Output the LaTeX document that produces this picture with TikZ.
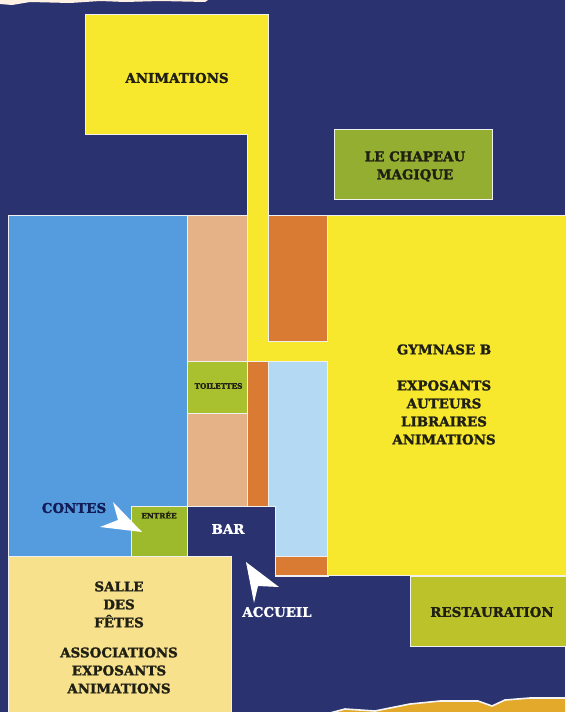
\documentclass[tikz,border=0pt]{standalone}
\usepackage{fontspec}
\setmainfont{DejaVu Serif}[BoldFeatures={FakeBold=1.6}]
\definecolor{navy}{HTML}{2A3270}
\definecolor{deepnavy}{HTML}{121B55}
\definecolor{yel}{HTML}{F7E72D}
\definecolor{skyb}{HTML}{559CDF}
\definecolor{peach}{HTML}{E5B287}
\definecolor{orng}{HTML}{D97B33}
\definecolor{pale}{HTML}{B3D9F3}
\definecolor{cream}{HTML}{F8E18D}
\definecolor{grna}{HTML}{93AE30}
\definecolor{grnb}{HTML}{A9C02F}
\definecolor{grnc}{HTML}{9DBA2C}
\definecolor{grnd}{HTML}{BCC32A}
\definecolor{gold}{HTML}{E2A92A}
\definecolor{ink}{HTML}{1F1F14}
\tikzset{
  x=1pt,y=-1pt,
  room/.style={draw=white!88!gray,line width=0.9pt,line join=miter},
  lbl/.style={font=\bfseries\fontsize{13.4}{18}\selectfont,text=ink,align=center,inner sep=0pt},
  tiny/.style={font=\bfseries\fontsize{7.4}{8}\selectfont,text=ink,inner sep=0pt},
  pointer/.style={fill=white,draw=none},
}
\begin{document}
\begin{tikzpicture}
\useasboundingbox (0,0) rectangle (565,712);
\fill[navy] (0,0) rectangle (565,712);
% torn paper edges
\fill[white!90!orange] (0,0) -- (0,4) -- (12,5) -- (30,2) -- (70,3) -- (100,1) -- (125,2) -- (160,1) -- (205,2) -- (208,0) -- cycle;
\fill[gold,draw=white!92!gray,line width=1.6pt] (330,713) -- (345,709) -- (375,711) -- (410,704) -- (440,701) -- (478,701) -- (492,706) -- (505,700) -- (530,698) -- (566,698) -- (566,713) -- cycle;
% rooms
\path[room,fill=yel] (85.6,14.6) -- (268.6,14.6) -- (268.6,341.6) -- (327.6,341.6) -- (327.6,215.6) -- (566,215.6) -- (566,575.6) -- (327.6,575.6) -- (327.6,361.6) -- (247.6,361.6) -- (247.6,134.6) -- (85.6,134.6) -- cycle;
\path[room,fill=skyb] (8.6,215.6) -- (187.6,215.6) -- (187.6,506.6) -- (131.6,506.6) -- (131.6,556.6) -- (8.6,556.6) -- cycle;
\path[room,fill=peach] (187.6,215.6) rectangle (247.6,361.6);
\path[room,fill=peach] (187.6,413.6) rectangle (247.6,506.6);
\path[room,fill=orng] (268.6,215.6) rectangle (327.6,341.6);
\path[room,fill=orng] (247.6,361.6) rectangle (268.6,506.6);
\path[room,fill=pale] (268.6,361.6) rectangle (327.6,556.6);
\path[room,fill=orng] (275.6,556.6) rectangle (327.6,575.6);
\path[room,fill=navy] (187.6,506.6) -- (275.6,506.6) -- (275.6,576.6) -- (231.6,576.6) -- (231.6,556.6) -- (187.6,556.6) -- cycle;
\path[room,fill=grnb] (187.6,361.6) rectangle (247.6,413.6);
\path[room,fill=grnc] (131.6,506.6) rectangle (187.6,556.6);
\path[room,fill=cream] (8.6,556.6) -- (231.6,556.6) -- (231.6,713) -- (8.6,713) -- cycle;
\path[room,fill=grna] (334.6,129.6) rectangle (492.6,199.6);
\path[room,fill=grnd] (410.6,576.6) rectangle (566,646.6);
\fill[navy] (232.1,557.1) rectangle (275.1,578);
\draw[white!88!gray,line width=0.9pt] (275.6,576.6) -- (328.6,576.6);
% pointers
\fill[pointer] (113,502) -- (142,532) -- (100,527) -- (118,520) -- cycle;
\fill[pointer] (246,562) -- (279,587) -- (258,586) -- (254,603) -- cycle;
% labels
\node[lbl] (animations) at (177,78) {ANIMATIONS};
\node[lbl] (chapeau) at (415,166.5) {LE CHAPEAU\\MAGIQUE};
\node[lbl] (gymnase) at (444,394.5) {GYMNASE B\\[18pt]EXPOSANTS\\AUTEURS\\LIBRAIRES\\ANIMATIONS};
\node[lbl] (salle) at (119,637.5) {SALLE\\DES\\FÊTES\\[12pt]ASSOCIATIONS\\EXPOSANTS\\ANIMATIONS};
\node[lbl] (restauration) at (492,612) {RESTAURATION};
\node[lbl,text=deepnavy] (contes) at (74,508) {CONTES};
\node[lbl,text=white] (bar) at (228,529) {BAR};
\node[lbl,text=white] (accueil) at (277,612) {ACCUEIL};
\node[tiny] (entree) at (159,515) {ENTRÉE};
\node[tiny] (toilettes) at (218.5,386) {TOILETTES};
\end{tikzpicture}
\end{document}
